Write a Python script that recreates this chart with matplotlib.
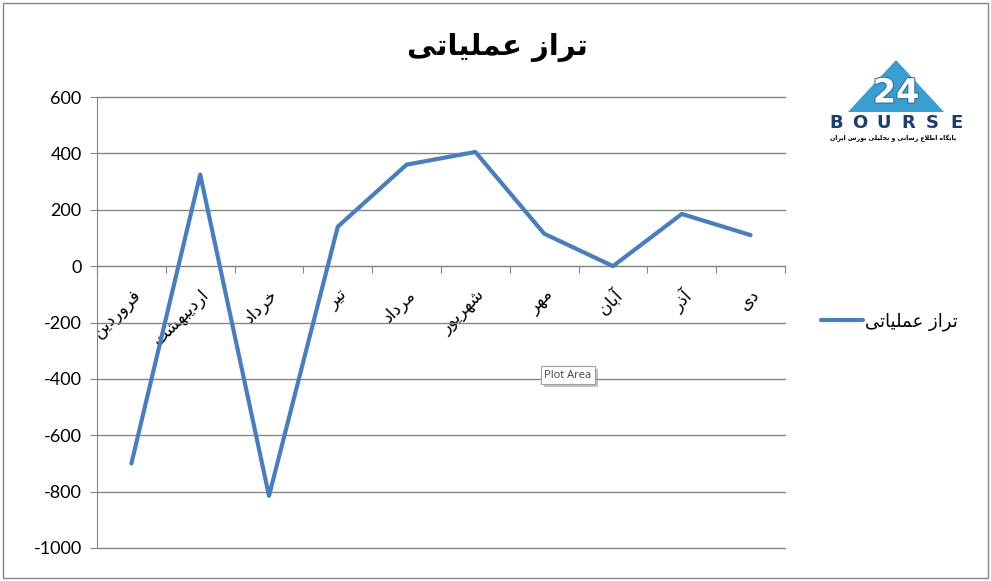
"""Operating balance line chart (Excel style) with Persian month labels."""

import matplotlib
matplotlib.use("Agg")
import matplotlib.pyplot as plt
import matplotlib.patheffects as pe
from matplotlib.patches import Polygon, Rectangle
from matplotlib.transforms import ScaledTranslation

# -- Data --
MONTHS = ["فروردین", "اردیبهشت", "خرداد", "تیر", "مرداد",
          "شهریور", "مهر", "آبان", "آذر", "دی"]
BALANCE = [-700, 325, -815, 140, 360, 405, 115, 0, 185, 110]
Y_TICKS = [-1000, -800, -600, -400, -200, 0, 200, 400, 600]
TITLE = "تراز عملیاتی"
SERIES_NAME = "تراز عملیاتی"
LOGO_SUB = "پایگاه اطلاع رسانی و تحلیلی بورس ایران"

LINE_COLOR = "#4a7ebb"
GRID_COLOR = "#868686"

# -- Minimal Arabic/Persian shaping (matplotlib has no shaping or bidi) --
FORMS = {
    "ا": ("\uFE8D", "\uFE8E", None, None),
    "آ": ("\uFE81", "\uFE82", None, None),
    "ب": ("\uFE8F", "\uFE90", "\uFE91", "\uFE92"),
    "پ": ("\uFB56", "\uFB57", "\uFB58", "\uFB59"),
    "ت": ("\uFE95", "\uFE96", "\uFE97", "\uFE98"),
    "ح": ("\uFEA1", "\uFEA2", "\uFEA3", "\uFEA4"),
    "خ": ("\uFEA5", "\uFEA6", "\uFEA7", "\uFEA8"),
    "د": ("\uFEA9", "\uFEAA", None, None),
    "ذ": ("\uFEAB", "\uFEAC", None, None),
    "ر": ("\uFEAD", "\uFEAE", None, None),
    "ز": ("\uFEAF", "\uFEB0", None, None),
    "س": ("\uFEB1", "\uFEB2", "\uFEB3", "\uFEB4"),
    "ش": ("\uFEB5", "\uFEB6", "\uFEB7", "\uFEB8"),
    "ط": ("\uFEC1", "\uFEC2", "\uFEC3", "\uFEC4"),
    "ع": ("\uFEC9", "\uFECA", "\uFECB", "\uFECC"),
    "ف": ("\uFED1", "\uFED2", "\uFED3", "\uFED4"),
    "گ": ("\uFB92", "\uFB93", "\uFB94", "\uFB95"),
    "ل": ("\uFEDD", "\uFEDE", "\uFEDF", "\uFEE0"),
    "م": ("\uFEE1", "\uFEE2", "\uFEE3", "\uFEE4"),
    "ن": ("\uFEE5", "\uFEE6", "\uFEE7", "\uFEE8"),
    "ه": ("\uFEE9", "\uFEEA", "\uFEEB", "\uFEEC"),
    "و": ("\uFEED", "\uFEEE", None, None),
    "ی": ("\uFEEF", "\uFEF0", "\uFEF3", "\uFEF4"),
}


def _joins_next(c):
    return c in FORMS and FORMS[c][2] is not None


def shape(s):
    out = []
    i, n = 0, len(s)
    while i < n:
        c = s[i]
        if c not in FORMS:
            out.append(c)
            i += 1
            continue
        pj = i > 0 and _joins_next(s[i - 1])
        if c == "ل" and i + 1 < n and s[i + 1] == "ا":
            out.append("\uFEFC" if pj else "\uFEFB")
            i += 2
            continue
        nj = i + 1 < n and s[i + 1] in FORMS and FORMS[c][2] is not None
        iso, fin, ini, med = FORMS[c]
        if pj and nj:
            out.append(med)
        elif pj:
            out.append(fin)
        elif nj:
            out.append(ini)
        else:
            out.append(iso)
        i += 1
    return "".join(reversed(out))


plt.rcParams["font.family"] = ["Lato", "DejaVu Sans"]

W, H = 991, 581
fig = plt.figure(figsize=(W / 100, H / 100), dpi=100)
fig.patch.set_facecolor("white")

# chart-area border
fig.add_artist(Rectangle((3 / W, 3 / H), 985 / W, 575 / H, transform=fig.transFigure,
                         fill=False, edgecolor=GRID_COLOR, lw=1))

ax = fig.add_axes([97 / W, 1 - 548 / H, (785 - 97) / W, (548 - 97) / H])
x = list(range(1, len(MONTHS) + 1))
ax.plot(x, BALANCE, color=LINE_COLOR, lw=3, solid_capstyle="round",
        solid_joinstyle="round", label=shape(SERIES_NAME), zorder=3)

ax.set_xlim(0.5, len(MONTHS) + 0.5)
ax.set_ylim(-1000, 600)
ax.set_yticks(Y_TICKS)
ax.set_yticklabels([str(v) for v in Y_TICKS], fontsize=13)
ax.yaxis.grid(True, color=GRID_COLOR, lw=1)
for gl in ax.get_ygridlines():
    gl.set_clip_on(False)
ax.set_axisbelow(True)

for side in ["top", "right"]:
    ax.spines[side].set_visible(False)
ax.spines["left"].set_color(GRID_COLOR)
ax.spines["bottom"].set_color(GRID_COLOR)
ax.spines["bottom"].set_position(("data", 0))

ax.set_xticks([v + 0.5 for v in range(0, len(MONTHS) + 1)])
ax.set_xticklabels([])
ax.set_xticks(x, minor=True)
ax.set_xticklabels([shape(m) for m in MONTHS], minor=True, rotation=45,
                   ha="right", va="top", rotation_mode="anchor",
                   fontsize=12.5, family="DejaVu Sans")
shift = ScaledTranslation(-4 / 100, 2 / 100, fig.dpi_scale_trans)
for lbl in ax.get_xticklabels(minor=True):
    lbl.set_transform(lbl.get_transform() + shift)
ax.tick_params(axis="x", which="major", length=5, color=GRID_COLOR, direction="out")
ax.tick_params(axis="x", which="minor", length=0, pad=14)
ax.tick_params(axis="y", length=5, color=GRID_COLOR, pad=6)

fig.text(497 / W, 1 - 47 / H, shape(TITLE), ha="center", va="center",
         fontsize=21, fontweight="bold", family="DejaVu Sans")

fig.legend(loc="center left", bbox_to_anchor=(805 / W, 1 - 322 / H), frameon=False,
           prop={"family": "DejaVu Sans", "size": 13}, handlelength=2.3,
           handletextpad=0.1)

tip = fig.text(568 / W, 1 - 375 / H, "Plot Area", ha="center", va="center",
               fontsize=8, color="#404040", family="Open Sans",
               bbox=dict(boxstyle="square,pad=0.3", fc="white", ec="#a0a0a0", lw=0.8))
tip.get_bbox_patch().set_path_effects(
    [pe.SimplePatchShadow(offset=(2, -2), shadow_rgbFace="#999999", alpha=0.6),
     pe.Normal()])

# logo
lax = fig.add_axes([820 / W, 1 - 148 / H, 150 / W, 98 / H])
lax.set_xlim(820, 970)
lax.set_ylim(148, 50)
lax.axis("off")
lax.add_patch(Polygon([(848, 112), (896, 60), (944, 112)], closed=True,
                      fc="#3a9fd0", ec="none"))
lax.text(896, 93, "24", ha="center", va="center", fontsize=24, fontweight="bold",
         color="white", family="DejaVu Sans",
         path_effects=[pe.withStroke(linewidth=1.5, foreground="#2a6f9a")])
for k, ch in enumerate("BOURSE"):
    lax.text(836 + k * 24, 123, ch, ha="center", va="center", fontsize=13,
             fontweight="bold", color="#1d3d6b", family="DejaVu Sans")
lax.text(893, 138, shape(LOGO_SUB), ha="center", va="center", fontsize=4.5,
         fontweight="bold", color="black", family="DejaVu Sans")

fig.savefig("out.png", dpi=100)
